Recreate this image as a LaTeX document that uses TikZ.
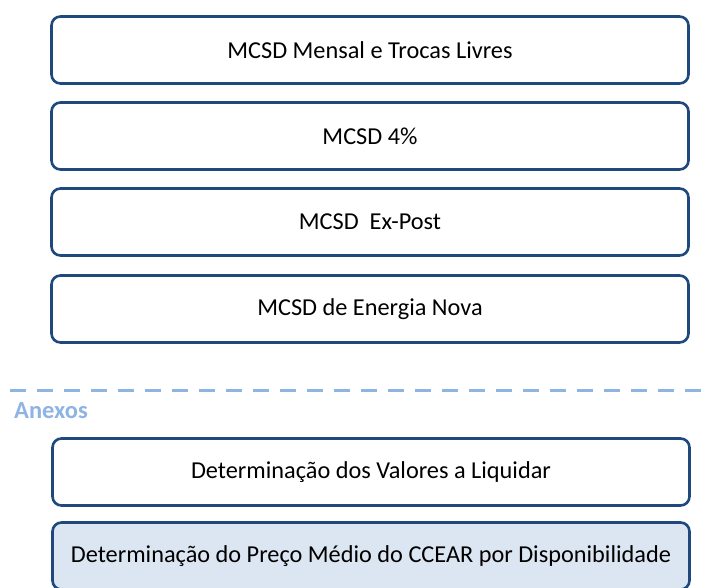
\documentclass[tikz,border=0pt]{standalone}
\usepackage{fontspec}
\setmainfont{Carlito}
\usepackage{xcolor}
\usetikzlibrary{calc}

\definecolor{boxblue}{HTML}{1F497D}
\definecolor{annexblue}{HTML}{8EB4E3}
\definecolor{annexfill}{HTML}{DCE6F2}

\tikzset{
  stagebox/.style={draw=boxblue, line width=2.6pt, rounded corners=9pt, fill=white,
    minimum width=637pt, minimum height=67pt, font=\fontsize{24.3}{28}\selectfont, inner sep=0pt},
  annexbox/.style={stagebox, fill=annexfill}
}

\begin{document}
\begin{tikzpicture}[x=1pt, y=-1pt]
\useasboundingbox (0,0) rectangle (712,588);
\node[stagebox] (mensal) at (370,50) {MCSD Mensal e Trocas Livres};
\node[stagebox] (quatro) at (370,136) {MCSD 4\%};
\node[stagebox] (expost) at (370,222) {MCSD\ \ Ex-Post};
\node[stagebox] (nova) at (370,309) {MCSD de Energia Nova};
\coordinate (sepL) at (10,390); \coordinate (sepR) at (712,390);
\draw[annexblue, line width=3pt, dash pattern=on 16pt off 11pt] (sepL) -- (sepR);
\node[anchor=west, inner sep=0pt, font=\fontsize{24.5}{28}\selectfont\bfseries, text=annexblue] (anexos) at (14,411) {Anexos};
\node[stagebox] (liquidar) at (371,472) {Determinação dos Valores a Liquidar};
\node[annexbox] (preco) at (371,556) {Determinação do Preço Médio do CCEAR por Disponibilidade};
\end{tikzpicture}
\end{document}
